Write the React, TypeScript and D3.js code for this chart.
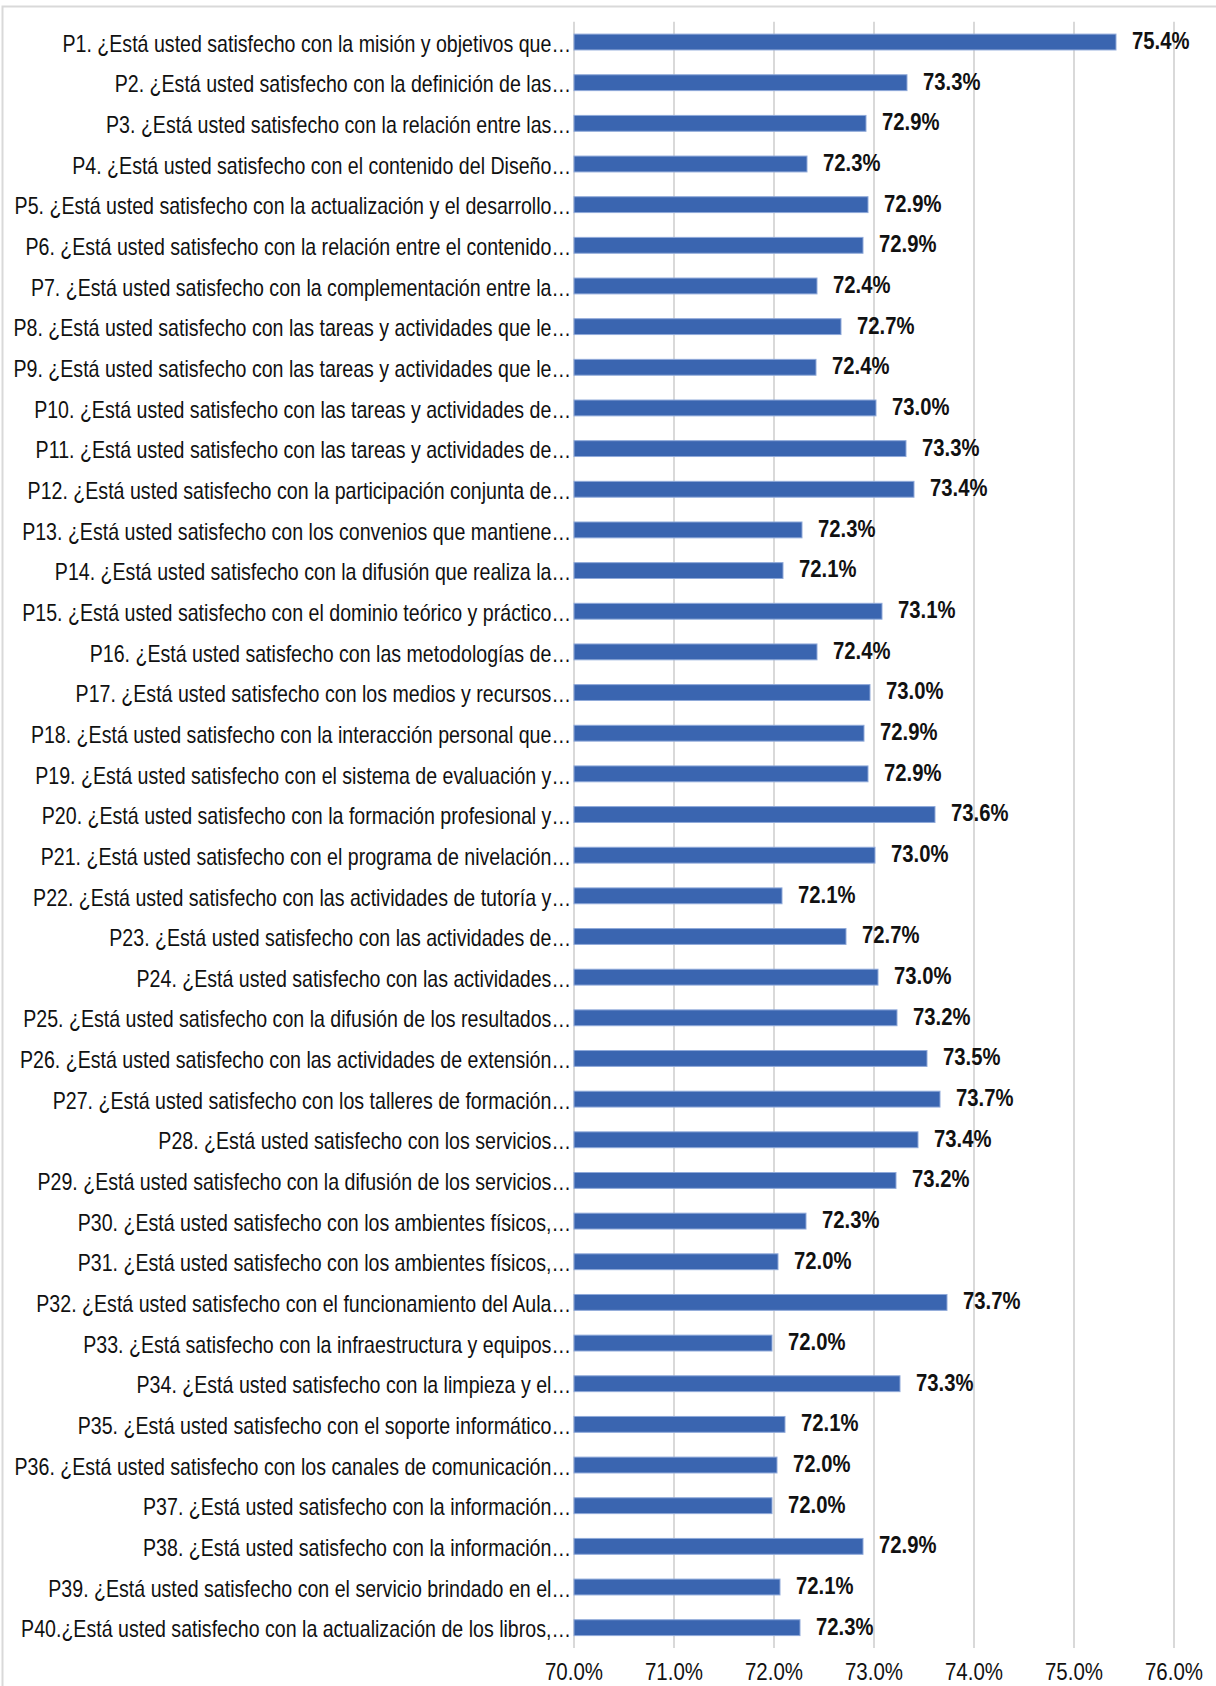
import React from "react";
import * as d3 from "d3";

const categories: string[] = [
  "P1. ¿Está usted satisfecho con la misión y objetivos que…",
  "P2. ¿Está usted satisfecho con la definición de las…",
  "P3. ¿Está usted satisfecho con la relación entre las…",
  "P4. ¿Está usted satisfecho con el contenido del Diseño…",
  "P5. ¿Está usted satisfecho con la actualización y el desarrollo…",
  "P6. ¿Está usted satisfecho con la relación entre el contenido…",
  "P7. ¿Está usted satisfecho con la complementación entre la…",
  "P8. ¿Está usted satisfecho con las tareas y actividades que le…",
  "P9. ¿Está usted satisfecho con las tareas y actividades que le…",
  "P10. ¿Está usted satisfecho con las tareas y actividades de…",
  "P11. ¿Está usted satisfecho con las tareas y actividades de…",
  "P12. ¿Está usted satisfecho con la participación conjunta de…",
  "P13. ¿Está usted satisfecho con los convenios que mantiene…",
  "P14. ¿Está usted satisfecho con la difusión que realiza la…",
  "P15. ¿Está usted satisfecho con el dominio teórico y práctico…",
  "P16. ¿Está usted satisfecho con las metodologías de…",
  "P17. ¿Está usted satisfecho con los medios y recursos…",
  "P18. ¿Está usted satisfecho con la interacción personal que…",
  "P19. ¿Está usted satisfecho con el sistema de evaluación y…",
  "P20. ¿Está usted satisfecho con la formación profesional y…",
  "P21. ¿Está usted satisfecho con el programa de nivelación…",
  "P22. ¿Está usted satisfecho con las actividades de tutoría y…",
  "P23. ¿Está usted satisfecho con las actividades de…",
  "P24. ¿Está usted satisfecho con las actividades…",
  "P25. ¿Está usted satisfecho con la difusión de los resultados…",
  "P26. ¿Está usted satisfecho con las actividades de extensión…",
  "P27. ¿Está usted satisfecho con los talleres de formación…",
  "P28. ¿Está usted satisfecho con los servicios…",
  "P29. ¿Está usted satisfecho con la difusión de los servicios…",
  "P30. ¿Está usted satisfecho con los ambientes físicos,…",
  "P31. ¿Está usted satisfecho con los ambientes físicos,…",
  "P32. ¿Está usted satisfecho con el funcionamiento del Aula…",
  "P33. ¿Está satisfecho con la infraestructura y equipos…",
  "P34. ¿Está usted satisfecho con la limpieza y el…",
  "P35. ¿Está usted satisfecho con el soporte informático…",
  "P36. ¿Está usted satisfecho con los canales de comunicación…",
  "P37. ¿Está usted satisfecho con la información…",
  "P38. ¿Está usted satisfecho con la información…",
  "P39. ¿Está usted satisfecho con el servicio brindado en el…",
  "P40.¿Está usted satisfecho con la actualización de los libros,…",
];

const values: number[] = [
  75.42, 73.33, 72.92, 72.33, 72.94, 72.89, 72.43, 72.67, 72.42, 73.02,
  73.32, 73.4, 72.28, 72.09, 73.08, 72.43, 72.96, 72.9, 72.94, 73.61,
  73.01, 72.08, 72.72, 73.04, 73.23, 73.53, 73.66, 73.44, 73.22, 72.32,
  72.04, 73.73, 71.98, 73.26, 72.11, 72.03, 71.98, 72.89, 72.06, 72.26,
];

const tickValues: number[] = [70, 71, 72, 73, 74, 75, 76];

const W = 1216;
const H = 1686;
const FONT = "'Liberation Sans Narrow', 'Arial Narrow', 'Liberation Sans', Arial, sans-serif";
const FS = 23;

export default function App() {
  const x = d3.scaleLinear().domain([70, 76]).range([574, 1174]);
  const y = d3
    .scaleBand<string>()
    .domain(categories)
    .range([21.7, 1648])
    .paddingInner(0.61)
    .paddingOuter(0.305);
  const bw = y.bandwidth();

  return (
    <svg
      width={W}
      height={H}
      style={{ position: "absolute", left: 0, top: 0, background: "#fff" }}
      fontFamily={FONT}
    >
      <rect x={0} y={0} width={W} height={H} fill="#fff" />
      <rect x={2.5} y={6.5} width={W + 20} height={H + 20} fill="none" stroke="#d9d9d9" strokeWidth={2} />
      {tickValues.map((t) => (
        <line key={"g" + t} x1={x(t)} x2={x(t)} y1={21.7} y2={1648} stroke="#d9d9d9" strokeWidth={2} />
      ))}
      {categories.map((c, i) => {
        const cy = y(c)! + bw / 2;
        return (
          <g key={c}>
            <rect
              x={x(70)}
              y={y(c)!}
              width={x(values[i]) - x(70)}
              height={bw}
              fill="#3a65b0"
              stroke="#8fa9d9"
              strokeWidth={1}
            />
            <g transform={`translate(571,${cy}) scale(0.852,1)`}>
              <text dy="0.42em" textAnchor="end" fontSize={FS} fill="#111">
                {c}
              </text>
            </g>
            <g transform={`translate(${x(values[i]) + 16},${cy}) scale(0.88,1)`}>
              <text dy="0.3em" fontSize={FS} fontWeight="bold" fill="#111">
                {values[i].toFixed(1) + "%"}
              </text>
            </g>
          </g>
        );
      })}
      {tickValues.map((t) => (
        <g key={"t" + t} transform={`translate(${x(t)},1680) scale(0.89,1)`}>
          <text textAnchor="middle" fontSize={FS} fill="#111">
            {t.toFixed(1) + "%"}
          </text>
        </g>
      ))}
    </svg>
  );
}
